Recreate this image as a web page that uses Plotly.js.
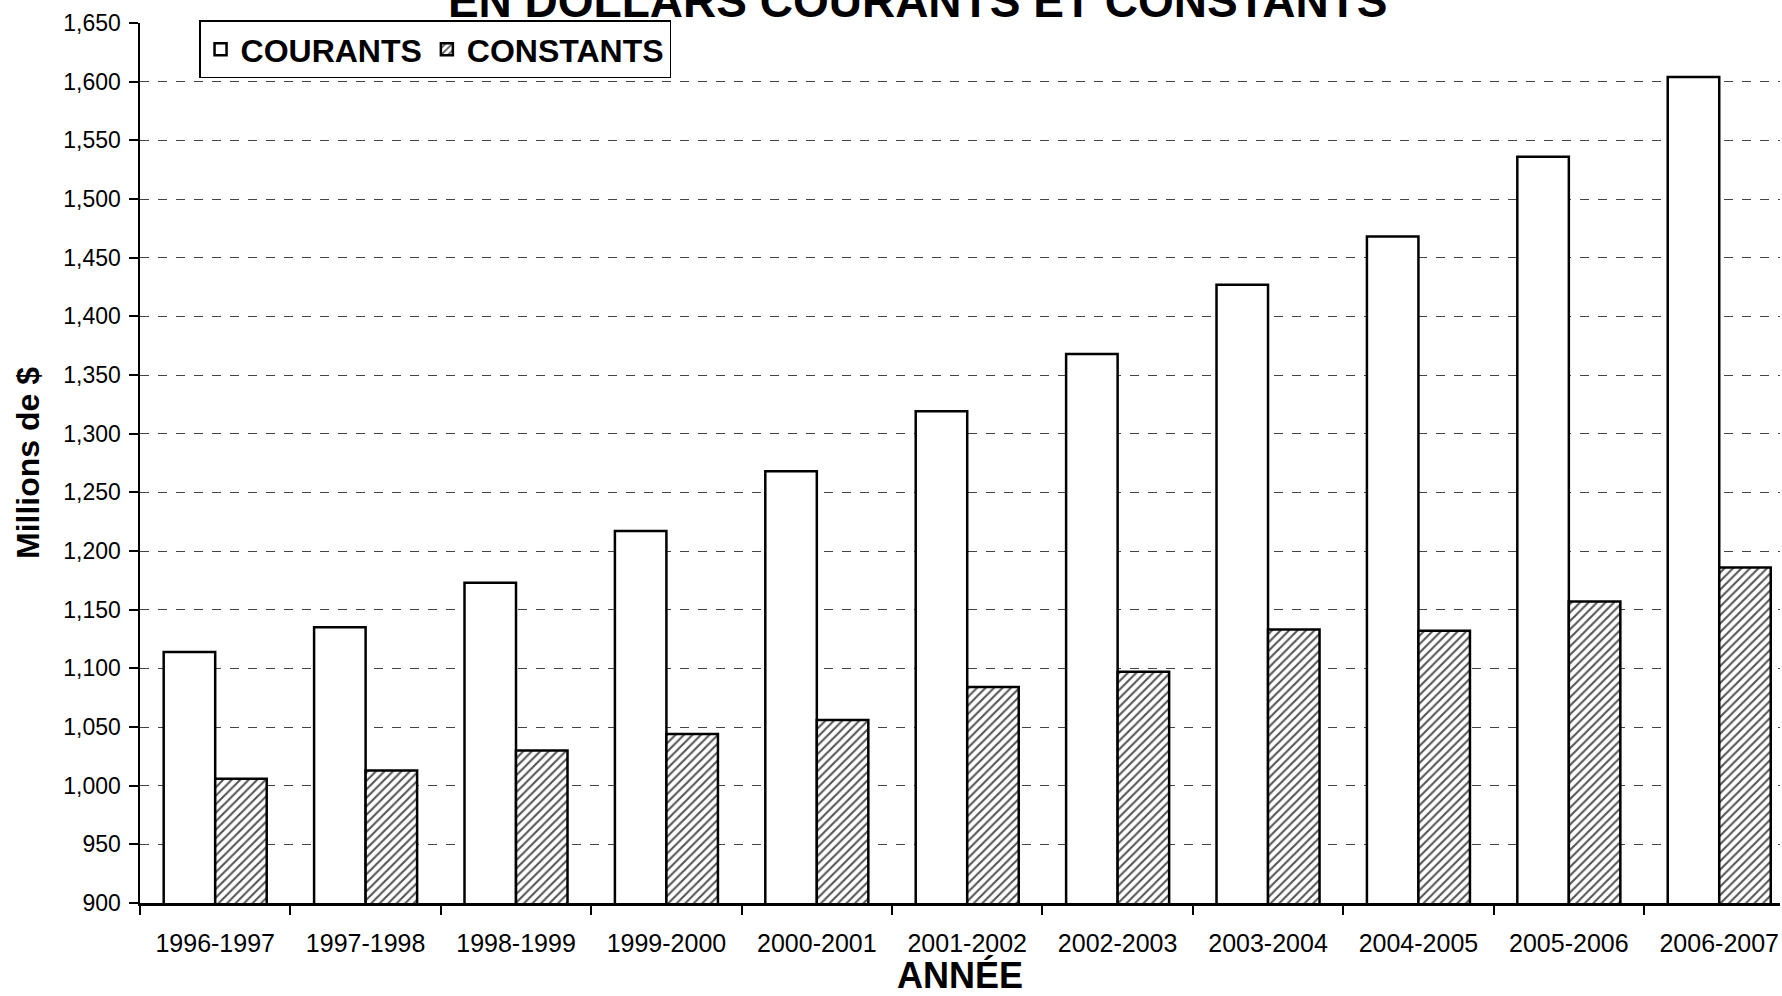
<!DOCTYPE html>
<html>
<head>
<meta charset="utf-8">
<script src="https://cdn.plot.ly/plotly-3.0.1.min.js"></script>
<style>html,body{margin:0;padding:0;background:#fff;}#chart{width:1782px;height:996px;}</style>
</head>
<body>
<div id="chart"></div>
<script>
var categories = ['1996-1997','1997-1998','1998-1999','1999-2000','2000-2001','2001-2002','2002-2003','2003-2004','2004-2005','2005-2006','2006-2007'];
var courants = [1114, 1135, 1173, 1217, 1268, 1319, 1368, 1427, 1468, 1536, 1604];
var constants = [1006, 1013, 1030, 1044, 1056, 1084, 1097, 1133, 1132, 1157, 1186];
var yTicks = [900, 950, 1000, 1050, 1100, 1150, 1200, 1250, 1300, 1350, 1400, 1450, 1500, 1550, 1600, 1650];

var FONT = 'Liberation Sans, Arial, sans-serif';

var traces = [
  {
    type: 'bar', name: 'COURANTS', x: categories, y: courants,
    marker: {color: '#ffffff', line: {color: '#000000', width: 2.5}}
  },
  {
    type: 'bar', name: 'CONSTANTS', x: categories, y: constants,
    marker: {
      color: '#ffffff',
      line: {color: '#000000', width: 2.5},
      pattern: {shape: '/', fgcolor: '#555555', bgcolor: '#ffffff', size: 6, solidity: 0.35}
    }
  }
];

var layout = {
  width: 1782, height: 996,
  paper_bgcolor: '#ffffff', plot_bgcolor: '#ffffff',
  margin: {l: 140, r: 2, t: 23, b: 93},
  barmode: 'group', bargap: 0.315, bargroupgap: 0,
  font: {family: FONT, color: '#000000'},
  title: {
    text: 'EN DOLLARS COURANTS ET CONSTANTS',
    font: {family: FONT, size: 46, weight: 'bold', color: '#000'},
    x: 0.515, xanchor: 'center', yref: 'container', y: 0.999, yanchor: 'middle'
  },
  showlegend: true,
  legend: {
    orientation: 'h', x: 0.036, xanchor: 'left', y: 1.003, yanchor: 'top',
    bgcolor: '#ffffff', bordercolor: '#000000', borderwidth: 1.5,
    font: {family: FONT, size: 32, weight: 'bold', color: '#000'},
    itemwidth: 30, tracegroupgap: 0
  },
  xaxis: {
    type: 'category', range: [-0.5, 10.404],
    tickson: 'boundaries', ticks: 'outside', ticklen: 9, tickwidth: 2, tickcolor: '#000',
    showline: true, linecolor: '#000', linewidth: 2.5,
    showgrid: false, ticklabelstandoff: 16,
    tickfont: {family: FONT, size: 25, color: '#000'},
    title: {text: 'ANNÉE', font: {family: FONT, size: 36, weight: 'bold', color: '#000'}, standoff: 13}
  },
  yaxis: {
    range: [900, 1650], tickmode: 'array', tickvals: yTicks, tickformat: ',d',
    ticks: 'outside', ticklen: 9, tickwidth: 2, tickcolor: '#000',
    showline: true, linecolor: '#000', linewidth: 2.5,
    showgrid: true, gridcolor: '#444444', gridwidth: 1, griddash: 'dash',
    zeroline: false, ticklabelstandoff: 3,
    tickfont: {family: FONT, size: 23, color: '#000'},
    title: {text: 'Millions de $', font: {family: FONT, size: 32, weight: 'bold', color: '#000'}, standoff: 14}
  }
};

Plotly.newPlot('chart', traces, layout, {displayModeBar: false, staticPlot: true});
</script>
</body>
</html>
